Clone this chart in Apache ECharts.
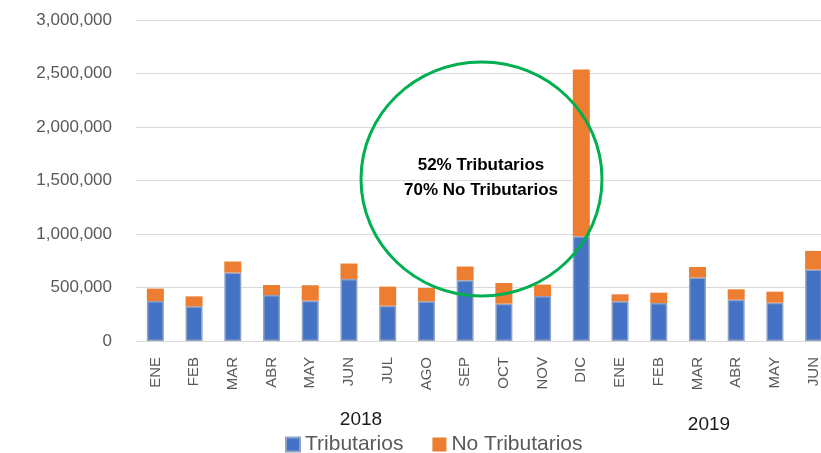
<!DOCTYPE html>
<html>
<head>
<meta charset="utf-8">
<script src="https://cdn.jsdelivr.net/npm/echarts@6/dist/echarts.min.js"></script>
<style>html,body{margin:0;padding:0;background:#fff;overflow:hidden;width:821px;height:453px;}#c{width:833px;height:453px;}</style>
</head>
<body>
<div id="c"></div>
<script>
var categories = ['ENE','FEB','MAR','ABR','MAY','JUN','JUL','AGO','SEP','OCT','NOV','DIC','ENE','FEB','MAR','ABR','MAY','JUN'];
var tributarios = [373000,324000,640000,430000,377000,580000,330000,371000,568000,349000,420000,980000,371000,355000,593000,386000,358000,668000];
var noTributarios = [117000,93000,103000,93000,144000,144000,178000,124000,128000,193000,107000,1557000,65000,97000,99000,97000,103000,174000];
var yearLabels = ['2018','2019'];
var noteLines = ['52% Tributarios','70% No Tributarios'];

var chart = echarts.init(document.getElementById('c'));
chart.setOption({
  animation: false,
  backgroundColor: '#ffffff',
  grid: { left: 136, top: 20, right: 0, height: 321, containLabel: false },
  xAxis: {
    type: 'category',
    data: categories,
    axisLine: { show: true, lineStyle: { color: '#d9d9d9', width: 1 } },
    axisTick: { show: false },
    axisLabel: { rotate: 90, interval: 0, margin: 16, color: '#595959', fontSize: 15, fontFamily: 'Liberation Sans, Arial, sans-serif' }
  },
  yAxis: {
    type: 'value',
    min: 0, max: 3000000, interval: 500000,
    axisLine: { show: false },
    axisTick: { show: false },
    splitLine: { lineStyle: { color: '#d9d9d9', width: 1 } },
    axisLabel: {
      margin: 24, color: '#595959', fontSize: 17, fontFamily: 'Liberation Sans, Arial, sans-serif',
      formatter: function (v) { return v.toLocaleString('en-US'); }
    }
  },
  legend: {
    left: 280, top: 429,
    itemWidth: 14, itemHeight: 14, itemGap: 29,
    icon: 'rect',
    textStyle: { color: '#595959', fontSize: 21, fontFamily: 'Liberation Sans, Arial, sans-serif' },
    data: ['Tributarios', 'No Tributarios']
  },
  series: [
    {
      name: 'Tributarios', type: 'bar', stack: 'total', data: tributarios, barWidth: 17,
      itemStyle: { color: '#4472C4', borderColor: '#8FA2C6', borderWidth: 1.5 }
    },
    {
      name: 'No Tributarios', type: 'bar', stack: 'total', data: noTributarios, barWidth: 17,
      itemStyle: { color: '#ED7D31' }
    }
  ],
  graphic: [
    { type: 'text', x: 361, y: 420, style: { text: yearLabels[0], align: 'center', verticalAlign: 'middle', fill: '#1a1a1a', fontSize: 19, fontFamily: 'Liberation Sans, Arial, sans-serif' } },
    { type: 'text', x: 709, y: 425, style: { text: yearLabels[1], align: 'center', verticalAlign: 'middle', fill: '#1a1a1a', fontSize: 19, fontFamily: 'Liberation Sans, Arial, sans-serif' } },
    { type: 'ellipse', shape: { cx: 481.5, cy: 179, rx: 120.5, ry: 117 }, style: { fill: 'none', stroke: '#00B050', lineWidth: 3 }, z: 100 },
    { type: 'text', x: 481, y: 165, style: { text: noteLines[0], align: 'center', verticalAlign: 'middle', fill: '#000', fontSize: 17, fontWeight: 'bold', fontFamily: 'Liberation Sans, Arial, sans-serif' }, z: 101 },
    { type: 'text', x: 481, y: 190.5, style: { text: noteLines[1], align: 'center', verticalAlign: 'middle', fill: '#000', fontSize: 17, fontWeight: 'bold', fontFamily: 'Liberation Sans, Arial, sans-serif' }, z: 101 }
  ]
});
</script>
</body>
</html>
